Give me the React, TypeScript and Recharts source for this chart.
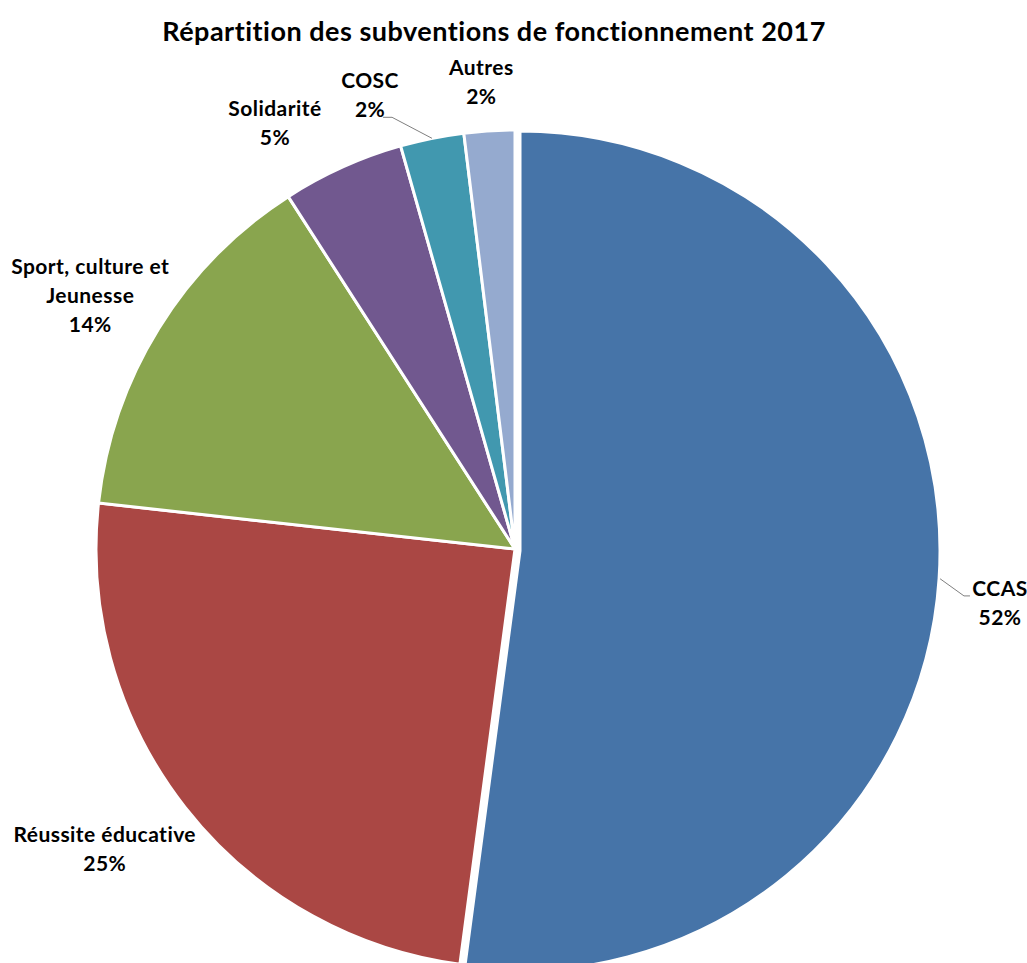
import React from 'react';
import { PieChart, Pie, Cell } from 'recharts';

const categories = ['CCAS', 'Réussite éducative', 'Sport, culture et Jeunesse', 'Solidarité', 'COSC', 'Autres'];
const values = [52.1, 24.65, 14.15, 4.7, 2.45, 1.95];
const colors = ['#4674A8', '#AA4744', '#89A54E', '#71588F', '#4198AF', '#95AACF'];

const data = categories.map((name, i) => ({ name, value: values[i] }));

// layout: label nudges relative to base point, and leader lines
const labelNudge: [number, number][] = [
  [17, 22],
  [-41, 10],
  [-26, -8],
  [-47, 0],
  [-52, 5],
  [-5, 0],
];
const leader: ([number, number, number, number] | null)[] = [
  [-36, -6, -30, -6],
  null,
  null,
  null,
  [22, 23, 13, 23],
  null,
];

const RAD = Math.PI / 180;
const FONT = 'Lato, "Liberation Sans", sans-serif';
const LINE_H = 29;

const wrap = (s: string) => {
  if (s.length <= 20) return [s];
  const k = s.lastIndexOf(' ');
  return [s.slice(0, k), s.slice(k + 1)];
};

const renderLabel = (props: any) => {
  const { cx, cy, midAngle, outerRadius, index, percent, name } = props;
  const r = outerRadius + 50;
  const bx = cx + r * Math.cos(-midAngle * RAD);
  const by = cy + r * Math.sin(-midAngle * RAD);
  const x = bx + labelNudge[index][0];
  const y = by + labelNudge[index][1];
  const lines = [...wrap(name), `${Math.round(percent * 100)}%`];
  const top = y - ((lines.length - 1) * LINE_H) / 2;
  const els: React.ReactNode[] = [];
  const ld = leader[index];
  if (ld) {
    const ox = index === 0 ? 5 : 0;
    const oy = index === 0 ? 2 : 0;
    const sx = cx + ox + (outerRadius + (index === 0 ? 2 : 0)) * Math.cos(-midAngle * RAD);
    const sy = cy + oy + (outerRadius + (index === 0 ? 2 : 0)) * Math.sin(-midAngle * RAD);
    els.push(
      <polyline
        key="l"
        points={`${sx},${sy} ${x + ld[0]},${y + ld[1]} ${x + ld[2]},${y + ld[3]}`}
        fill="none"
        stroke="#7f7f7f"
        strokeWidth={1}
      />
    );
  }
  lines.forEach((t, i) => {
    els.push(
      <text
        key={i}
        x={x}
        y={top + i * LINE_H}
        textAnchor="middle"
        dominantBaseline="central"
        fontFamily={FONT}
        fontWeight="bold"
        fontSize={21}
        letterSpacing={0.45}
        fill="#000"
      >
        {t}
      </text>
    );
  });
  return <g>{els}</g>;
};

export default function App() {
  return (
    <div style={{ position: 'absolute', left: 0, top: 0, width: 1027, height: 963, background: '#fff' }}>
      <PieChart width={1027} height={963} margin={{ top: 0, right: 0, bottom: 0, left: 0 }}>
        <text
          x={494}
          y={30}
          textAnchor="middle"
          dominantBaseline="central"
          fontFamily={FONT}
          fontWeight="bold"
          fontSize={27}
          letterSpacing={0.5}
          fill="#000"
        >
          Répartition des subventions de fonctionnement 2017
        </text>
        <Pie
          data={data}
          dataKey="value"
          nameKey="name"
          cx={515}
          cy={549}
          outerRadius={419}
          startAngle={90}
          endAngle={-270}
          stroke="#fff"
          strokeWidth={3}
          isAnimationActive={false}
          label={renderLabel}
          labelLine={false}
        >
          {data.map((d, i) => (
            <Cell key={d.name} fill={i === 0 ? 'none' : colors[i]} stroke={i === 0 ? 'none' : '#fff'} />
          ))}
        </Pie>
        <Pie
          data={data}
          dataKey="value"
          nameKey="name"
          cx={520}
          cy={551}
          outerRadius={420}
          startAngle={90}
          endAngle={-270}
          stroke="#fff"
          strokeWidth={3}
          isAnimationActive={false}
          label={false}
          labelLine={false}
        >
          {data.map((d, i) => (
            <Cell key={d.name} fill={i === 0 ? colors[i] : 'none'} stroke={i === 0 ? '#fff' : 'none'} />
          ))}
        </Pie>
      </PieChart>
    </div>
  );
}
